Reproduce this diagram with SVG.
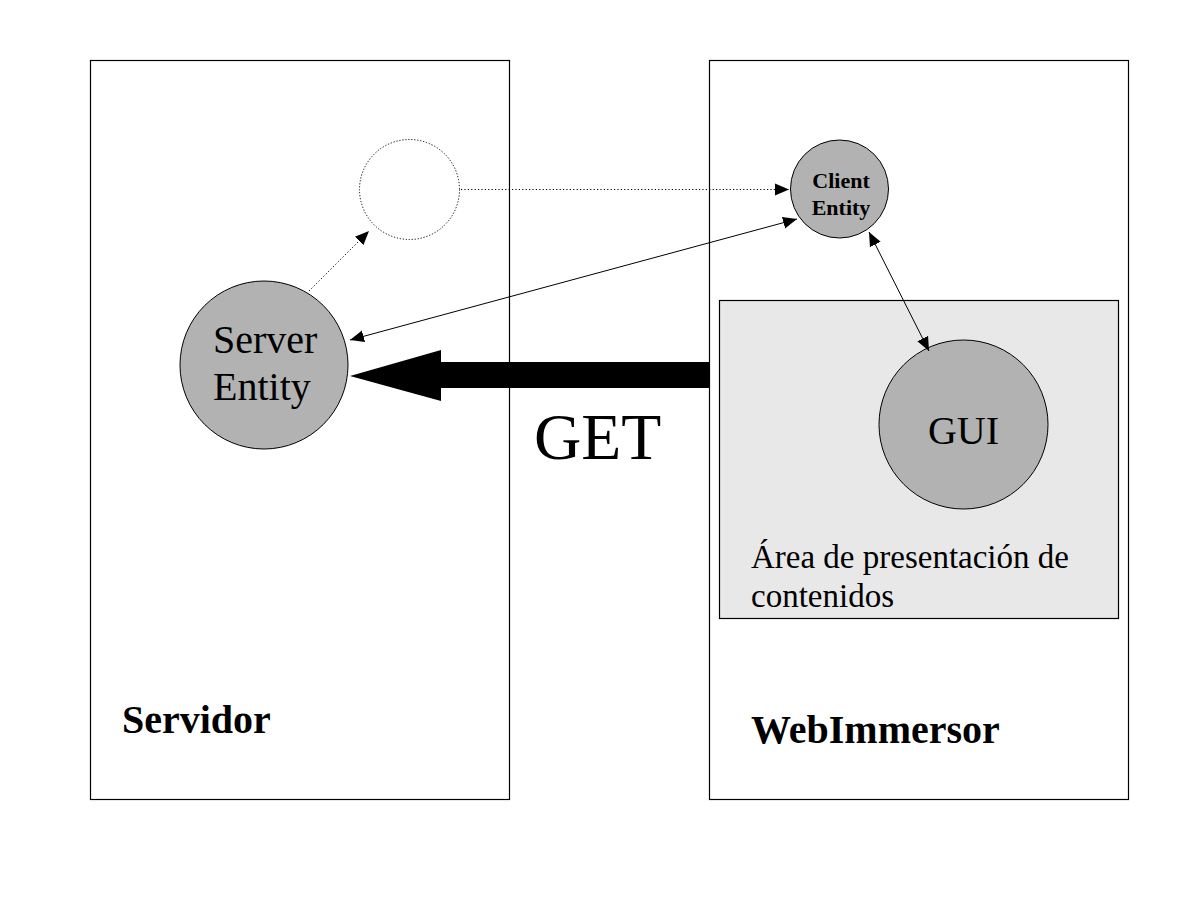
<svg xmlns="http://www.w3.org/2000/svg" width="1198" height="898" viewBox="0 0 1198 898">
<style>
.box{fill:#ffffff;stroke:#000;stroke-width:1.2}
.area{fill:#e8e8e8;stroke:#000;stroke-width:1.2}
.ent{fill:#b2b2b2;stroke:#000;stroke-width:1}
.dotc{fill:none;stroke:#000;stroke-width:1;stroke-dasharray:1.2,1.8}
.ln{fill:none;stroke:#000;stroke-width:1}
.dot{fill:none;stroke:#000;stroke-width:1;stroke-dasharray:1.2,2.2}
.t{font-family:"Liberation Serif","Times New Roman",serif;fill:#000}
.b{font-weight:bold}
</style>
<defs>
<marker id="ah" markerUnits="userSpaceOnUse" markerWidth="15" markerHeight="15" viewBox="0 0 15 15" refX="14" refY="7.5" orient="auto-start-reverse">
<path d="M0,1.5 L14,7.5 L0,13.5 Z" fill="#000"/>
</marker>
</defs>
<rect width="1198" height="898" fill="#fff"/>
<g id="servidor">
<rect class="box" x="90.5" y="60.5" width="419" height="739"/>
<text class="t b" x="122" y="733" font-size="40">Servidor</text>
</g>
<g id="webimmersor">
<rect class="box" x="709.5" y="60.5" width="419" height="739"/>
<text class="t b" x="751" y="743" font-size="40">WebImmersor</text>
</g>
<g id="area">
<rect class="area" x="719.5" y="300.5" width="399" height="318"/>
<text class="t" x="751" y="568" font-size="33">Área de presentación de</text>
<text class="t" x="751" y="607" font-size="33">contenidos</text>
</g>
<g id="ghost">
<circle class="dotc" cx="409.5" cy="189.5" r="50"/>
</g>
<g id="server-entity">
<circle class="ent" cx="264" cy="365" r="84"/>
<text class="t" x="213" y="353" font-size="40">Server</text>
<text class="t" x="213" y="400" font-size="40">Entity</text>
</g>
<g id="client-entity">
<circle class="ent" cx="839.5" cy="189" r="49"/>
<text class="t b" x="841" y="188" font-size="22" text-anchor="middle">Client</text>
<text class="t b" x="841" y="215" font-size="22" text-anchor="middle">Entity</text>
</g>
<g id="gui">
<circle class="ent" cx="963.5" cy="424.5" r="84.5"/>
<text class="t" x="963.5" y="444" font-size="40" text-anchor="middle">GUI</text>
</g>
<g id="connectors">
<line class="dot" x1="461" y1="189.5" x2="789" y2="189.5" marker-end="url(#ah)"/>
<line class="dot" x1="309" y1="291" x2="369" y2="231" marker-end="url(#ah)"/>
<line class="ln" x1="350" y1="340" x2="797" y2="219" marker-start="url(#ah)" marker-end="url(#ah)"/>
<line class="ln" x1="869" y1="232" x2="929" y2="351" marker-start="url(#ah)" marker-end="url(#ah)"/>
<polygon points="709,362 441,362 441,350 350,376 441,401 441,388 709,388" fill="#000"/>
<text class="t" x="534" y="459" font-size="65.5">GET</text>
</g>
</svg>
